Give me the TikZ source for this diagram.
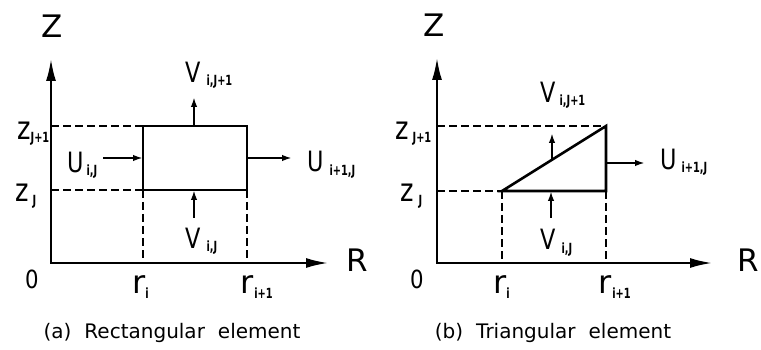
\documentclass[tikz,border=0pt]{standalone}
\usepackage{fontspec}
\setmainfont{DejaVu Sans}
\usetikzlibrary{arrows.meta}
\newcommand{\subf}{\fontsize{14}{14}\selectfont\bfseries}
\newcommand{\lbl}[3]{\scalebox{0.8}[1]{#1}\hspace{#3}\raisebox{-3pt}{\scalebox{0.7}[1]{\subf #2}}}
\begin{document}
\begin{tikzpicture}[x=1pt,y=-1pt,
  axis/.style={line width=2.8pt,{Latex[length=23pt,width=10pt]}-{Latex[length=23pt,width=10pt]}},
  el/.style={line width=2.6pt,line join=miter},
  dsh/.style={line width=2.1pt,dash pattern=on 8pt off 4pt},
  flow/.style={line width=2pt,-{Latex[length=10pt,width=6.5pt]}},
  lab/.style={inner sep=0pt,anchor=base west,font=\fontsize{28}{28}\selectfont},
  low/.style={inner sep=0pt,anchor=base west,font=\fontsize{32}{32}\selectfont},
  big/.style={inner sep=0pt,font=\fontsize{31}{31}\selectfont},
  zero/.style={inner sep=0pt,font=\fontsize{25}{25}\selectfont},
  captxt/.style={inner sep=0pt,font=\fontsize{20}{20}\selectfont}]
\useasboundingbox (0,0) rectangle (761,350);

% ---------------- panel (a) ----------------
\coordinate (Oa) at (51,263);
\coordinate (Za) at (51,58);
\coordinate (Ra) at (329,263);
\draw[axis] (Za) -- (Oa) -- (Ra);
\coordinate (a1) at (143,126);
\coordinate (a2) at (247,126);
\coordinate (a3) at (247,190);
\coordinate (a4) at (143,190);
\coordinate (za1) at (51,126);
\coordinate (za0) at (51,190);
\coordinate (ra0) at (143,263);
\coordinate (ra1) at (247,263);
\draw[dsh] (za1) -- (a1);
\draw[dsh] (za0) -- (a4);
\draw[dsh] (a4) -- (ra0);
\draw[dsh] (a3) -- (ra1);
\draw[el] (a1) -- (a2) -- (a3) -- (a4) -- cycle;
\coordinate (uin) at (103,158);
\coordinate (uinE) at (143,158);
\coordinate (uoutS) at (247,158);
\coordinate (uout) at (292,158);
\coordinate (vtopS) at (194,126);
\coordinate (vtop) at (194,97);
\coordinate (vbot) at (194,218);
\coordinate (vbotE) at (194,190);
\draw[flow] (uin) -- (uinE);
\draw[flow] (uoutS) -- (uout);
\draw[flow] (vtopS) -- (vtop);
\draw[flow] (vbot) -- (vbotE);

\node[big] (Zla) at (52,26) {Z};
\node[big] (Rla) at (357,260) {R};
\node[zero] (Ola) at (32,279) {\scalebox{0.85}[1]{0}};
\node[lab] (Uija) at (67,173) {\lbl{U}{i,J}{3pt}};
\node[lab] (Ui1ja) at (307,172) {\lbl{U}{i+1,J}{6pt}};
\node[lab] (Vij1a) at (185,83) {\lbl{V}{i,J+1}{6pt}};
\node[lab] (Vija) at (185,248) {\lbl{V}{i,J}{6pt}};
\node[low] (zj1a) at (17,140) {\lbl{z}{J+1}{0pt}};
\node[low] (zja) at (15,202) {\lbl{z}{J}{4pt}};
\node[low] (ria) at (132,293) {r\raisebox{-5pt}{\scalebox{0.7}[1]{\subf i}}};
\node[low] (ri1a) at (240,293) {r\hspace{1pt}\raisebox{-5pt}{\scalebox{0.7}[1]{\subf i+1}}};
\node[captxt] (capa) at (172,333) {(a)\hspace{13pt}Rectangular\hspace{13pt}element};

% ---------------- panel (b) ----------------
\coordinate (Ob) at (437,263);
\coordinate (Zb) at (437,57);
\coordinate (Rb) at (713,263);
\draw[axis] (Zb) -- (Ob) -- (Rb);
\coordinate (b1) at (502,191);
\coordinate (b2) at (606,126);
\coordinate (b3) at (606,191);
\coordinate (zb1) at (437,126);
\coordinate (zb0) at (437,191);
\coordinate (rb0) at (502,263);
\coordinate (rb1) at (606,263);
\draw[dsh] (zb1) -- (b2);
\draw[dsh] (zb0) -- (b1);
\draw[dsh] (b1) -- (rb0);
\draw[dsh] (b3) -- (rb1);
\draw[el] (b1) -- (b2) -- (b3) -- cycle;
\coordinate (vdS) at (552,159.8);
\coordinate (vd) at (552,133);
\coordinate (ubS) at (606,163);
\coordinate (ub) at (645,163);
\coordinate (vbb) at (551,218);
\coordinate (vbbE) at (551,191);
\draw[flow] (vdS) -- (vd);
\draw[flow] (ubS) -- (ub);
\draw[flow] (vbb) -- (vbbE);

\node[big] (Zlb) at (434,25) {Z};
\node[big] (Rlb) at (748,260) {R};
\node[zero] (Olb) at (417,279) {\scalebox{0.85}[1]{0}};
\node[lab] (Vij1b) at (540,103) {\lbl{V}{i,J+1}{4pt}};
\node[lab] (Ui1jb) at (660,170) {\lbl{U}{i+1,J}{5pt}};
\node[lab] (Vijb) at (540,250) {\lbl{V}{i,J}{6pt}};
\node[low] (zj1b) at (395,140) {\lbl{z}{J+1}{4pt}};
\node[low] (zjb) at (400,202) {\lbl{z}{J}{5pt}};
\node[low] (rib) at (493,293) {r\raisebox{-5pt}{\scalebox{0.7}[1]{\subf i}}};
\node[low] (ri1b) at (598,293) {r\hspace{1pt}\raisebox{-5pt}{\scalebox{0.7}[1]{\subf i+1}}};
\node[captxt] (capb) at (553,333) {(b)\hspace{13pt}Triangular\hspace{13pt}element};
\end{tikzpicture}
\end{document}
